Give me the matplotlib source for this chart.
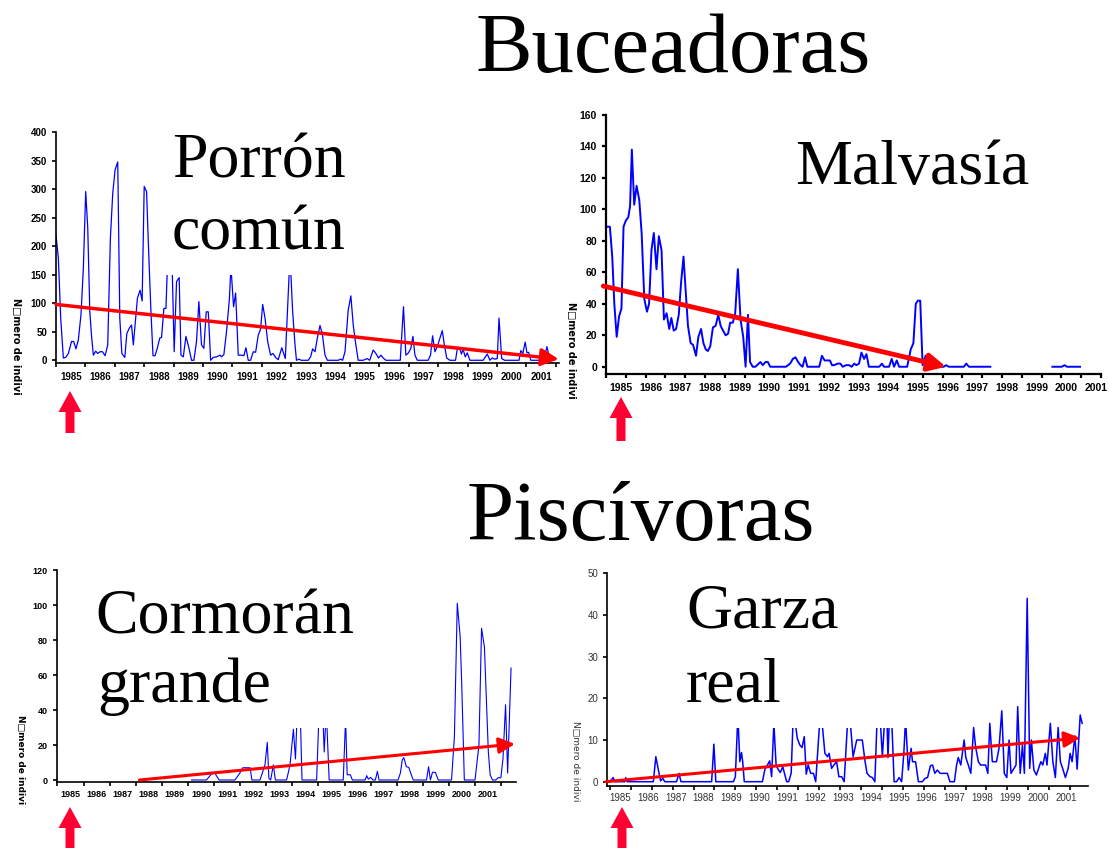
import numpy as np
import matplotlib.pyplot as plt
from matplotlib.patches import Rectangle, FancyArrow
from matplotlib.ticker import NullFormatter

# ---------------------------------------------------------------
# Datos (ano decimal, numero de individuos)

porron_t = [1985.00, 1985.08, 1985.16, 1985.25, 1985.33, 1985.42, 1985.53, 1985.60, 1985.68, 1985.76,
            1985.85, 1985.93, 1986.01, 1986.08, 1986.15, 1986.21, 1986.27, 1986.35, 1986.42, 1986.50,
            1986.58, 1986.67, 1986.76, 1986.85, 1986.93, 1987.01, 1987.10, 1987.17, 1987.24, 1987.34,
            1987.41, 1987.49, 1987.57, 1987.63, 1987.77, 1987.86, 1987.93, 1988.00, 1988.08, 1988.16,
            1988.23, 1988.30, 1988.37, 1988.45, 1988.53, 1988.59, 1988.67, 1988.74, 1988.84, 1988.93,
            1989.02, 1989.10, 1989.19, 1989.25, 1989.33, 1989.42, 1989.52, 1989.61, 1989.69, 1989.78,
            1989.86, 1989.95, 1990.03, 1990.11, 1990.18, 1990.26, 1990.35, 1990.46, 1990.58, 1990.63,
            1990.71, 1990.80, 1990.90, 1990.95, 1991.04, 1991.11, 1991.20, 1991.32, 1991.39, 1991.46,
            1991.54, 1991.62, 1991.71, 1991.79, 1991.88, 1991.96, 1992.03, 1992.11, 1992.20, 1992.30,
            1992.38, 1992.47, 1992.56, 1992.68, 1992.80, 1992.96, 1993.05, 1993.13, 1993.18, 1993.26,
            1993.34, 1993.58, 1993.66, 1993.73, 1993.81, 1993.89, 1993.98, 1994.06, 1994.15, 1994.23,
            1994.60, 1994.68, 1994.75, 1994.83, 1994.94, 1995.03, 1995.11, 1995.20, 1995.28, 1995.45,
            1995.58, 1995.67, 1995.79, 1995.88, 1995.97, 1996.05, 1996.13, 1996.22, 1996.71, 1996.82,
            1996.90, 1996.99, 1997.07, 1997.14, 1997.21, 1997.29, 1997.66, 1997.74, 1997.81, 1997.89,
            1997.97, 1998.06, 1998.14, 1998.21, 1998.29, 1998.40, 1998.59, 1998.66, 1998.74, 1998.79,
            1998.85, 1998.92, 1998.99, 1999.08, 1999.53, 1999.67, 1999.76, 1999.84, 1999.93, 2000.01,
            2000.07, 2000.16, 2000.26, 2000.75, 2000.81, 2000.88, 2000.96, 2001.02, 2001.08, 2001.15,
            2001.60, 2001.70, 2001.78, 2001.88]
porron_n = [220, 179, 74, 4, 5, 12, 33, 33, 20, 36,
            80, 161, 296, 232, 85, 42, 9, 16, 12, 15,
            15, 8, 27, 214, 293, 334, 348, 74, 12, 5,
            47, 56, 62, 27, 109, 123, 104, 305, 296, 179,
            85, 8, 8, 22, 39, 40, 91, 91, 240, 210,
            15, 138, 145, 9, 6, 42, 22, 0, 0, 33,
            103, 27, 21, 85, 85, 0, 5, 6, 9, 6,
            10, 50, 109, 165, 94, 118, 9, 9, 8, 22,
            0, 0, 15, 14, 44, 55, 98, 74, 33, 9,
            12, 5, 1, 22, 3, 185, 85, 27, 0, 2,
            0, 0, 6, 20, 15, 39, 61, 46, 9, 0,
            0, 2, 0, 15, 88, 113, 62, 27, 0, 0,
            3, 0, 18, 12, 4, 9, 4, 0, 0, 94,
            9, 13, 21, 42, 9, 0, 0, 9, 43, 15,
            24, 39, 52, 27, 4, 0, 0, 23, 20, 11,
            19, 6, 13, 0, 0, 11, 0, 4, 2, 3,
            74, 3, 0, 0, 17, 12, 32, 13, 14, 0,
            0, 24, 5, 3]

malvasia_t = [1985.04, 1985.13, 1985.21, 1985.28, 1985.36, 1985.44, 1985.52, 1985.59, 1985.67, 1985.75,
              1985.81, 1985.87, 1985.95, 1986.03, 1986.12, 1986.20, 1986.29, 1986.38, 1986.45, 1986.53,
              1986.61, 1986.70, 1986.78, 1986.87, 1986.95, 1987.04, 1987.13, 1987.20, 1987.28, 1987.36,
              1987.45, 1987.53, 1987.61, 1987.68, 1987.76, 1987.85, 1987.93, 1988.03, 1988.11, 1988.20,
              1988.28, 1988.36, 1988.43, 1988.51, 1988.60, 1988.69, 1988.78, 1988.86, 1988.94, 1989.03,
              1989.11, 1989.18, 1989.27, 1989.35, 1989.44, 1989.53, 1989.62, 1989.70, 1989.78, 1989.85,
              1989.94, 1990.03, 1990.20, 1990.28, 1990.37, 1990.45, 1990.53, 1991.06, 1991.20, 1991.29,
              1991.38, 1991.47, 1991.55, 1991.62, 1991.70, 1991.78, 1992.18, 1992.27, 1992.36, 1992.45,
              1992.54, 1992.61, 1992.68, 1992.80, 1992.89, 1992.97, 1993.08, 1993.19, 1993.27, 1993.36,
              1993.43, 1993.52, 1993.60, 1993.69, 1993.77, 1993.85, 1994.20, 1994.29, 1994.36, 1994.53,
              1994.62, 1994.70, 1994.79, 1994.87, 1995.14, 1995.26, 1995.35, 1995.43, 1995.50, 1995.58,
              1995.66, 1995.76, 1995.87, 1995.95, 1996.37, 1996.45, 1996.54, 1997.05, 1997.13, 1997.22,
              1997.94, 1999.00, 2000.03, 2000.35, 2000.44, 2000.52, 2000.96]
malvasia_n = [89, 89, 70, 40, 19, 32, 37, 89, 93, 95,
              102, 138, 103, 115, 106, 85, 43, 35, 40, 74,
              85, 62, 83, 74, 30, 34, 24, 31, 23, 24,
              33, 54, 70, 49, 26, 15, 14, 7, 19, 24,
              15, 11, 10, 13, 25, 26, 33, 26, 23, 20,
              21, 28, 28, 34, 62, 30, 19, 0, 33, 3,
              0, 0, 3, 1, 3, 3, 0, 0, 2, 5,
              6, 3, 1, 0, 6, 0, 0, 7, 4, 4,
              4, 1, 1, 2, 2, 0, 1, 1, 0, 2,
              1, 2, 9, 5, 8, 0, 0, 2, 0, 0,
              5, 0, 4, 0, 0, 11, 15, 40, 42, 42,
              1, 7, 7, 0, 0, 1, 0, 0, 2, 0,
              0, np.nan, 0, 0, 1, 0, 0]

cormoran_t = [1990.14, 1990.71, 1990.93, 1991.03, 1991.19, 1991.80, 1991.99, 1992.10, 1992.38, 1992.45,
              1992.76, 1992.95, 1993.04, 1993.10, 1993.17, 1993.27, 1993.35, 1993.78, 1993.91, 1994.04,
              1994.12, 1994.20, 1994.30, 1994.37, 1994.93, 1995.05, 1995.15, 1995.22, 1995.30, 1995.41,
              1995.95, 1996.04, 1996.10, 1996.22, 1996.30, 1996.79, 1996.85, 1996.91, 1997.00, 1997.09,
              1997.18, 1997.26, 1997.32, 1998.05, 1998.14, 1998.21, 1998.27, 1998.37, 1998.46, 1998.54,
              1998.63, 1999.14, 1999.22, 1999.29, 1999.37, 1999.48, 1999.59, 2000.10, 2000.21, 2000.32,
              2000.43, 2000.49, 2000.59, 2001.00, 2001.15, 2001.25, 2001.36, 2001.51, 2001.58, 2001.67,
              2001.79, 2001.89, 2001.99, 2002.07, 2002.17, 2002.25, 2002.38]
cormoran_n = [0, 0, 4, 4, 0, 0, 4, 7, 7, 0,
              0, 8.6, 21.5, 1, 0, 8.6, 0, 0, 8.6, 29,
              12, 45, 40, 0, 0, 50, 45, 16, 40, 0,
              0, 35, 3, 3, 0, 0, 2.5, 0.5, 1.5, 0,
              0, 5, 0, 0, 4, 11.4, 12.8, 7.6, 7.2, 3.8,
              0, 0, 7.6, 0, 4.4, 4.4, 0, 0, 25, 101,
              82, 55, 0, 0, 20, 86.7, 76, 16, 3, 0,
              0, 1.3, 1.3, 12, 43, 4, 64]

garza_t = [1985.00, 1985.15, 1985.26, 1985.32, 1985.68, 1985.71, 1985.76, 1986.70, 1986.79, 1986.87,
           1986.96, 1987.04, 1987.11, 1987.53, 1987.62, 1987.69, 1988.79, 1988.87, 1988.94, 1989.57,
           1989.64, 1989.73, 1989.80, 1989.86, 1989.90, 1989.96, 1990.61, 1990.70, 1990.79, 1990.87,
           1990.94, 1991.02, 1991.10, 1991.17, 1991.25, 1991.34, 1991.40, 1991.48, 1991.55, 1991.64,
           1991.71, 1991.79, 1991.86, 1991.95, 1992.03, 1992.11, 1992.18, 1992.25, 1992.34, 1992.44,
           1992.52, 1992.67, 1992.75, 1992.85, 1992.94, 1993.00, 1993.09, 1993.17, 1993.27, 1993.35,
           1993.45, 1993.54, 1993.66, 1993.75, 1993.86, 1993.99, 1994.10, 1994.19, 1994.29, 1994.36,
           1994.47, 1994.55, 1994.64, 1994.72, 1994.84, 1994.91, 1994.99, 1995.07, 1995.11, 1995.16,
           1995.25, 1995.33, 1995.42, 1995.51, 1995.60, 1995.68, 1995.74, 1995.84, 1995.94, 1995.99,
           1996.10, 1996.20, 1996.34, 1996.44, 1996.53, 1996.63, 1996.71, 1996.79, 1996.88, 1996.98,
           1997.24, 1997.33, 1997.49, 1997.57, 1997.63, 1997.72, 1997.84, 1997.90, 1997.99, 1998.08,
           1998.18, 1998.25, 1998.35, 1998.43, 1998.61, 1998.69, 1998.76, 1998.85, 1999.00, 1999.09,
           1999.19, 1999.28, 1999.37, 1999.45, 1999.52, 1999.61, 1999.70, 1999.76, 1999.85, 1999.93,
           2000.00, 2000.10, 2000.19, 2000.25, 2000.34, 2000.43, 2000.51, 2000.59, 2000.66, 2000.75,
           2000.81, 2000.93, 2001.02, 2001.11, 2001.21, 2001.29, 2001.38, 2001.47, 2001.57, 2001.64,
           2001.71, 2001.81, 2001.89, 2002.00, 2002.07]
garza_n = [0, 0, 1, 0, 0, 1, 0, 0, 6, 3.2,
           0.2, 0.8, 0, 0, 2, 0, 0, 9, 0, 0,
           1.2, 16, 4.8, 7, 5, 0, 0, 3, 4, 5,
           1.2, 14, 4, 3, 2.2, 3.6, 2, 0, 0, 2,
           15, 14, 10.4, 8.8, 8.2, 10.8, 1.8, 4, 2, 2,
           0, 15, 14, 6.8, 6, 6.8, 3.2, 4, 4.8, 1.2,
           1.2, 0, 14, 15, 6, 10, 10, 10, 4.8, 2,
           1.2, 1, 0, 15, 14, 6, 15, 16, 5.8, 15,
           14, 0, 0, 1, 0, 7, 15, 2.8, 8, 4.8,
           4.8, 0, 0, 0.8, 1, 3.8, 4, 2, 2.8, 2,
           2, 0, 0, 4, 5.8, 4, 10, 5.8, 4, 2,
           13, 8.4, 4.8, 4, 4, 2, 14, 4.8, 4.8, 8,
           17, 2, 1, 10, 2, 3, 4, 18, 2, 8.8,
           2, 44, 3.2, 10, 2.8, 1.6, 3.2, 4.8, 4, 6.8,
           4, 14, 4.8, 1, 13, 4.8, 3, 1, 3.2, 6.8,
           4.8, 11, 3, 16, 14]

anos = list(range(1985, 2002))

# tendencias (inicio, fin)
porron_trend = [(1985.0, 98), (2002.1, 2)]
malvasia_trend = [(1984.91, 51.3), (1996.45, 0)]
cormoran_trend = [(1988.14, 0), (2002.53, 20.6)]
garza_trend = [(1985.0, 0), (2002.0, 10.5)]

# ---------------------------------------------------------------
W, H = 1110, 848
fig = plt.figure(figsize=(W / 100, H / 100), dpi=100)


def panel(left, right, top, bottom):
    return fig.add_axes([left / W, 1 - bottom / H, (right - left) / W, (bottom - top) / H])


def estilo(ax, xt, yt, fs, peso, cor, lw, pad):
    ax.spines[['top', 'right']].set_visible(False)
    for s in ['left', 'bottom']:
        ax.spines[s].set_linewidth(lw)
    ax.set_xticks(xt)
    ax.xaxis.set_major_formatter(NullFormatter())
    ax.set_xticks([a + 0.5 for a in anos], minor=True)
    ax.set_xticklabels([str(a) for a in anos], minor=True)
    ax.set_yticks(yt)
    ax.tick_params(axis='both', which='major', direction='out', length=3, width=lw,
                   labelsize=fs, labelcolor=cor)
    ax.tick_params(axis='x', which='minor', length=0, pad=pad, labelsize=fs, labelcolor=cor)
    for t in ax.get_xticklabels(minor=True) + ax.get_yticklabels():
        t.set_fontweight(peso)
        t.set_family('Liberation Sans')
    ax.patch.set_visible(False)


def tendencia(ax, tr, lw, ms):
    ax.annotate('', xy=tr[1], xytext=tr[0], annotation_clip=False,
                arrowprops=dict(arrowstyle='-|>,head_length=0.8,head_width=0.4', color='#ff0000',
                                lw=lw, mutation_scale=ms, shrinkA=0, shrinkB=0))


# Porron comun
ax1 = panel(56, 559, 132.3, 363.3)
ax1.plot(porron_t, porron_n, color='#0000ff', lw=0.9)
ax1.set_xlim(1985, 2002.11)
ax1.set_ylim(-5.3, 400)
estilo(ax1, range(1985, 2003), range(0, 401, 50), 7, 'bold', 'black', 1.2, 6)
tendencia(ax1, porron_trend, 2.5, 13)

# Malvasia
ax2 = panel(606, 1101, 115, 374.3)
ax2.plot(malvasia_t, malvasia_n, color='#0000ff', lw=1.4)
ax2.set_xlim(1985, 2001.61)
ax2.set_ylim(-4.8, 160)
estilo(ax2, np.arange(1985, 2001.7, 2 / 3), range(0, 161, 20), 7.5, 'bold', 'black', 1.6, 6)
tendencia(ax2, malvasia_trend, 3.5, 13)

# Cormoran grande
ax3 = panel(56.7, 516, 570, 781.7)
ax3.plot(cormoran_t, cormoran_n, color='#0000ff', lw=0.8)
ax3.set_xlim(1984.97, 2002.57)
ax3.set_ylim(-0.97, 120)
estilo(ax3, range(1985, 2003), range(0, 121, 20), 6.5, 'bold', 'black', 1.2, 6)
tendencia(ax3, cormoran_trend, 2.2, 12)

# Garza real
ax4 = panel(607.3, 1088, 573.3, 785.7)
ax4.plot(garza_t, garza_n, color='#0000ff', lw=1.1)
ax4.set_xlim(1985.05, 2002.28)
ax4.set_ylim(-0.96, 50)
estilo(ax4, np.arange(1985.14, 2002.3, 0.75), range(0, 51, 10), 7, 'normal', '#333333', 1.2, 5)
tendencia(ax4, garza_trend, 2.2, 12)

# ---------------------------------------------------------------
# capa de textos, recuadros y flechas (coordenadas en pixeles)
ov = fig.add_axes([0, 0, 1, 1], zorder=10)
ov.set_xlim(0, W)
ov.set_ylim(H, 0)
ov.axis('off')
ov.patch.set_visible(False)

for x, y, w, h in [(160, 125, 200, 150), (88, 575, 275, 152.5), (680, 575, 260, 152.5)]:
    ov.add_patch(Rectangle((x, y), w, h, facecolor='white', edgecolor='none'))

serif = 'Liberation Serif'
ov.text(673, 72, 'Buceadoras', fontsize=61, family=serif, ha='center', va='baseline')
ov.text(641, 540, 'Piscívoras', fontsize=61, family=serif, ha='center', va='baseline')
ov.text(172, 178, 'Porrón', fontsize=46, family=serif, va='baseline')
ov.text(172, 250, 'común', fontsize=46, family=serif, va='baseline')
ov.text(795, 184, 'Malvasía', fontsize=46, family=serif, va='baseline')
ov.text(95, 634, 'Cormorán', fontsize=46, family=serif, va='baseline')
ov.text(97, 702, 'grande', fontsize=46, family=serif, va='baseline')
ov.text(686, 628, 'Garza', fontsize=46, family=serif, va='baseline')
ov.text(686, 702, 'real', fontsize=46, family=serif, va='baseline')

ylab = 'N\u25a1mero de indivi'
ov.text(16, 346, ylab, fontsize=7, fontweight='bold', rotation=-90, ha='center', va='center')
ov.text(571, 350, ylab, fontsize=7, fontweight='bold', rotation=-90, ha='center', va='center')
ov.text(20, 760, ylab, fontsize=6.5, fontweight='bold', rotation=-90, ha='center', va='center')
ov.text(576, 761, ylab, fontsize=6.5, color='#333333', rotation=-90, ha='center', va='center')

for x, yb, yt in [(70, 433, 391), (621, 441, 397), (70, 852, 807), (622, 852, 807)]:
    ov.add_patch(FancyArrow(x, yb, 0, yt - yb, width=9, head_width=23, head_length=21,
                            length_includes_head=True, color='#ff0033', lw=0))

plt.savefig('out.png', dpi=100)
